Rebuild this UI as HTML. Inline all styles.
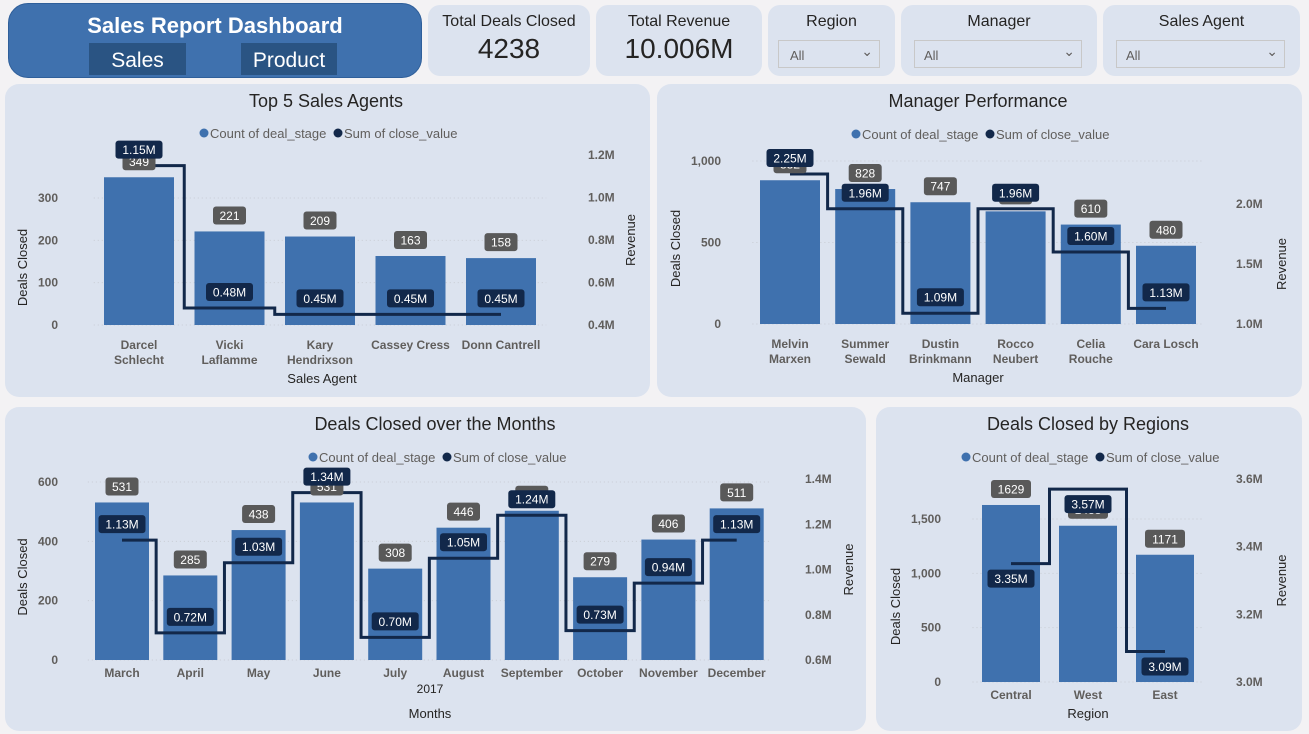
<!DOCTYPE html>
<html><head><meta charset="utf-8">
<style>
body{margin:0;width:1309px;height:734px;background:#f3f2f4;font-family:"Liberation Sans",sans-serif;overflow:hidden;position:relative}
.p{position:absolute;background:#dce3ef;border-radius:14px}
.card{position:absolute;background:#dce3ef;border-radius:12px;text-align:center;color:#252423}
.dd{position:absolute;border:1px solid #c8c8c8;height:26px;font-size:13px;color:#605e5c}
</style></head>
<body>
<div style="position:absolute;left:8px;top:3px;width:412px;height:73px;background:#3f71ae;border-radius:20px;border:1px solid #2f5f9a">
 <div style="position:absolute;left:0;width:412px;top:9px;text-align:center;color:#fff;font-weight:bold;font-size:22px">Sales Report Dashboard</div>
 <div style="position:absolute;left:80px;top:39px;width:97px;height:32px;background:#2a5483;color:#fff;font-size:21px;text-align:center;line-height:36px">Sales</div>
 <div style="position:absolute;left:232px;top:39px;width:96px;height:32px;background:#2a5483;color:#fff;font-size:21px;text-align:center;line-height:36px">Product</div>
</div>
<div class="card" style="left:428px;top:5px;width:162px;height:71px"><div style="font-size:16px;margin-top:8px">Total Deals Closed</div><div style="font-size:28px;margin-top:2px">4238</div></div>
<div class="card" style="left:596px;top:5px;width:166px;height:71px"><div style="font-size:16px;margin-top:8px">Total Revenue</div><div style="font-size:28px;margin-top:2px">10.006M</div></div>
<div class="card" style="left:768px;top:5px;width:127px;height:71px"><div style="font-size:16px;margin-top:8px">Region</div>
 <div class="dd" style="left:10px;top:35px;width:100px"><span style="position:absolute;left:11px;top:7px">All</span><span style="position:absolute;right:6px;top:2px;font-size:14px">&#8964;</span></div></div>
<div class="card" style="left:901px;top:5px;width:196px;height:71px"><div style="font-size:16px;margin-top:8px">Manager</div>
 <div class="dd" style="left:13px;top:35px;width:166px"><span style="position:absolute;left:9px;top:7px">All</span><span style="position:absolute;right:6px;top:2px;font-size:14px">&#8964;</span></div></div>
<div class="card" style="left:1103px;top:5px;width:197px;height:71px"><div style="font-size:16px;margin-top:8px">Sales Agent</div>
 <div class="dd" style="left:13px;top:35px;width:167px"><span style="position:absolute;left:9px;top:7px">All</span><span style="position:absolute;right:6px;top:2px;font-size:14px">&#8964;</span></div></div>

<div class="p" style="left:5px;top:84px;width:645px;height:313px"></div>
<div class="p" style="left:657px;top:84px;width:645px;height:313px"></div>
<div class="p" style="left:5px;top:407px;width:861px;height:324px"></div>
<div class="p" style="left:876px;top:407px;width:426px;height:324px"></div>

<svg id="s" width="1309" height="734" style="position:absolute;left:0;top:0" font-family="Liberation Sans, sans-serif"></svg>
<script>
const agentCats=["Darcel\nSchlecht","Vicki\nLaflamme","Kary\nHendrixson","Cassey Cress","Donn Cantrell"];
const agentDeals=[349,221,209,163,158];
const agentRevenue=[1.15,0.48,0.45,0.45,0.45];
const agentLeftTicks=[0,100,200,300];
const agentRightTicks=[0.4,0.6,0.8,1.0,1.2];

const mgrCats=["Melvin\nMarxen","Summer\nSewald","Dustin\nBrinkmann","Rocco\nNeubert","Celia\nRouche","Cara Losch"];
const mgrDeals=[882,828,747,691,610,480];
const mgrRevenue=[2.25,1.96,1.09,1.96,1.60,1.13];
const mgrLeftTicks=[0,500,1000];
const mgrRightTicks=[1.0,1.5,2.0];

const monthCats=["March","April","May","June","July","August","September","October","November","December"];
const monthDeals=[531,285,438,531,308,446,503,279,406,511];
const monthRevenue=[1.13,0.72,1.03,1.34,0.70,1.05,1.24,0.73,0.94,1.13];
const monthLeftTicks=[0,200,400,600];
const monthRightTicks=[0.6,0.8,1.0,1.2,1.4];

const regionCats=["Central","West","East"];
const regionDeals=[1629,1438,1171];
const regionRevenue=[3.35,3.57,3.09];
const regionLeftTicks=[0,500,1000,1500];
const regionRightTicks=[3.0,3.2,3.4,3.6];

const svg=document.getElementById('s');
const NS='http://www.w3.org/2000/svg';
function el(t,a,txt){const e=document.createElementNS(NS,t);for(const k in a)e.setAttribute(k,a[k]);if(txt!==undefined)e.textContent=txt;svg.appendChild(e);return e;}
function fmtL(v){return v.toLocaleString('en-US');}
function fmtR(v){return v.toFixed(1)+'M';}
function label(x,y,txt,fill,name){
  const w=txt.length*7+12;
  const r=el('rect',{x:x-w/2,y:y-9,width:w,height:18,rx:3,fill:fill});
  
  
  const t=el('text',{x:x,y:y+4.5,'text-anchor':'middle','font-size':12,fill:'#fff'},txt);
  
  
}
function chart(c){
  const yL=v=>c.y0-v/c.lTop*(c.y0-c.lTopY);
  const yR=v=>c.y0-(v-c.rMin)/(c.rTop-c.rMin)*(c.y0-c.rTopY);
  const xc=i=>c.x0+i*c.step;
  const t=el('text',{x:c.tx,y:c.ty,'text-anchor':'middle','font-size':18,fill:'#252423'},c.title);
  
  
  const lx=c.tx-122;
  const l1=el('circle',{cx:lx,cy:c.ly-4,r:4.5,fill:'#3f71ae'});
  
  
  const lt1=el('text',{x:lx+6,y:c.ly+1,'font-size':13,fill:'#605e5c'},'Count of deal_stage');
  
  
  const l2=el('circle',{cx:lx+134,cy:c.ly-4,r:4.5,fill:'#12284a'});
  
  
  const lt2=el('text',{x:lx+140,y:c.ly+1,'font-size':13,fill:'#605e5c'},'Sum of close_value');
  
  
  const gx1=c.x0-c.step/2, gx2=c.x0+(c.cats.length-0.5)*c.step;
  c.lt.forEach(v=>{
    const g=el('line',{x1:gx1,x2:gx2,y1:yL(v),y2:yL(v),stroke:'#c8ccd4','stroke-dasharray':'1 3'});
    
    
    const tk=el('text',{x:c.lx,y:yL(v)+4,'text-anchor':'end','font-size':12,'font-weight':'bold',fill:'#605e5c'},fmtL(v));
    
    
  });
  c.rt.forEach(v=>{
    const tk=el('text',{x:c.rx,y:yR(v)+4,'font-size':12,'font-weight':'bold',fill:'#605e5c'},fmtR(v));
    
    
  });
  const a1=el('text',{transform:`translate(${c.ax1},${(c.y0+c.lTopY)/2+6}) rotate(-90)`,'text-anchor':'middle','font-size':13,fill:'#252423'},'Deals Closed');
  
  
  const a2=el('text',{transform:`translate(${c.ax2},${(c.y0+c.rTopY)/2}) rotate(-90)`,'text-anchor':'middle','font-size':13,fill:'#252423'},'Revenue');
  
  
  c.bars.forEach((v,i)=>{
    const b=el('rect',{x:xc(i)-c.bw/2,y:yL(v),width:c.bw,height:c.y0-yL(v),fill:'#3f71ae'});
    
    
  });
  c.cats.forEach((s,i)=>{
    s.split('\n').forEach((ln,j)=>{
      const tt=el('text',{x:xc(i),y:c.y0+c.xlo+j*15,'text-anchor':'middle','font-size':12,'font-weight':'bold',fill:'#605e5c'},ln);
      
      
    });
  });
  let d='M'+xc(0)+' '+yR(c.line[0]);
  for(let i=1;i<c.line.length;i++){d+=' H'+(xc(i)-c.step/2)+' V'+yR(c.line[i]);}
  d+=' H'+xc(c.line.length-1);
  const p=el('path',{d:d,fill:'none',stroke:'#12284a','stroke-width':3});
  
  
  c.bars.forEach((v,i)=>label(xc(i),yL(v)-16,String(v),'#595959','bar-value-label'));
  c.line.forEach((v,i)=>label(xc(i),yR(v)+c.loff,v.toFixed(2)+'M','#12284a','line-value-label'));
  c.xt.forEach(o=>{
    const tt=el('text',{x:o[0],y:o[1],'text-anchor':'middle','font-size':o[2],fill:'#252423'},o[3]);
    
    
  });
}
chart({id:'top-agents',title:'Top 5 Sales Agents',tx:326,ty:107,ly:137,cats:agentCats,bars:agentDeals,line:agentRevenue,lt:agentLeftTicks,rt:agentRightTicks,
 x0:139,step:90.5,bw:70,y0:325,lTop:300,lTopY:198,rMin:0.4,rTop:1.2,rTopY:155,lx:58,rx:588,ax1:27,ax2:635,loff:-16,xlo:24,xt:[[322,383,13,'Sales Agent']]});
chart({id:'manager',title:'Manager Performance',tx:978,ty:107,ly:138,cats:mgrCats,bars:mgrDeals,line:mgrRevenue,lt:mgrLeftTicks,rt:mgrRightTicks,
 x0:790,step:75.2,bw:60,y0:324,lTop:1000,lTopY:161,rMin:1.0,rTop:2.0,rTopY:204,lx:721,rx:1236,ax1:680,ax2:1286,loff:-16,xlo:24,xt:[[978,382,13,'Manager']]});
chart({id:'months',title:'Deals Closed over the Months',tx:435,ty:430,ly:461,cats:monthCats,bars:monthDeals,line:monthRevenue,lt:monthLeftTicks,rt:monthRightTicks,
 x0:122,step:68.3,bw:54,y0:660,lTop:600,lTopY:482,rMin:0.6,rTop:1.4,rTopY:479,lx:58,rx:805,ax1:27,ax2:853,loff:-16,xlo:17,xt:[[430,693,12,'2017'],[430,718,13,'Months']]});
chart({id:'regions',title:'Deals Closed by Regions',tx:1088,ty:430,ly:461,cats:regionCats,bars:regionDeals,line:regionRevenue,lt:regionLeftTicks,rt:regionRightTicks,
 x0:1011,step:77,bw:58,y0:682,lTop:1500,lTopY:519,rMin:3.0,rTop:3.6,rTopY:479,lx:941,rx:1236,ax1:900,ax2:1286,loff:15,xlo:17,xt:[[1088,718,13,'Region']]});
</script>
</body></html>
